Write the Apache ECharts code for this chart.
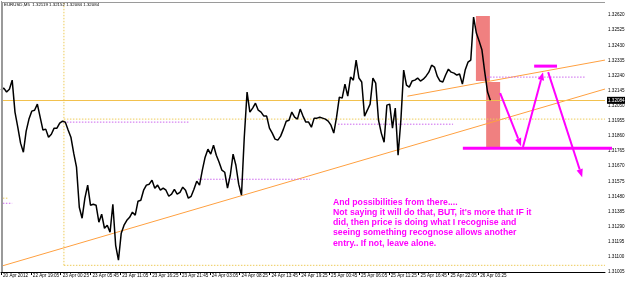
<!DOCTYPE html>
<html><head><meta charset="utf-8">
<script src="https://cdn.jsdelivr.net/npm/echarts@6/dist/echarts.min.js"></script>
<style>html,body{margin:0;padding:0;background:#fff}#c{width:625px;height:282px}</style>
</head><body><div id="c"></div>
<script>
// ---------- data ----------
const symbolName = 'EURUSD,M5';
const headerOHLC = [1.32119, 1.32152, 1.32084, 1.32084];
const barsPerPoint = 6;            // each value below = one M5 sample every 6 bars
const closes = [
1.32148,1.32161,1.32136,1.32154,1.32211,1.32010,1.31915,1.31815,1.31758,1.31890,
1.31966,1.32016,1.32022,1.32060,1.31978,1.31897,1.31903,1.31852,1.31871,1.31909,
1.31909,1.31941,1.31953,1.31947,1.31897,1.31852,1.31752,1.31664,1.31412,1.31343,
1.31469,1.31551,1.31425,1.31431,1.31425,1.31318,1.31368,1.31280,1.31299,1.31255,
1.31431,1.31173,1.31079,1.31249,1.31299,1.31330,1.31349,1.31381,1.31362,1.31450,
1.31456,1.31519,1.31551,1.31557,1.31582,1.31532,1.31551,1.31519,1.31532,1.31519,
1.31481,1.31494,1.31525,1.31494,1.31506,1.31538,1.31519,1.31469,1.31481,1.31525,
1.31576,1.31551,1.31645,1.31727,1.31777,1.31746,1.31802,1.31739,1.31695,1.31645,
1.31632,1.31532,1.31613,1.31746,1.31676,1.31557,1.31488,1.31852,1.32136,1.32010,
1.32035,1.32066,1.32022,1.32010,1.31985,1.31985,1.31909,1.31878,1.31840,1.31834,
1.31859,1.31903,1.31953,1.31959,1.32010,1.31978,1.31966,1.32029,1.31985,1.31947,
1.31947,1.31915,1.31972,1.31972,1.31978,1.31972,1.31966,1.31953,1.31928,1.31878,
1.31978,1.32104,1.32098,1.32186,1.32110,1.32230,1.32211,1.32337,1.32224,1.32199,
1.31985,1.32022,1.32060,1.32224,1.32192,1.31959,1.31878,1.31821,1.32054,1.32060,
1.31909,1.32035,1.31739,1.31959,1.32274,1.32180,1.32167,1.32205,1.32211,1.32224,
1.32205,1.32217,1.32236,1.32261,1.32305,1.32293,1.32236,1.32205,1.32199,1.32243,
1.32280,1.32261,1.32255,1.32243,1.32249,1.32186,1.32274,1.32324,1.32337,1.32607,
1.32507,1.32456,1.32400,1.32261,1.32136,1.32084
];
const xTickLabels = ['20 Apr 2012','22 Apr 19:05','23 Apr 00:25','23 Apr 05:45','23 Apr 11:05','23 Apr 16:25','23 Apr 21:45','24 Apr 03:05','24 Apr 08:25','24 Apr 13:45','24 Apr 19:25','25 Apr 00:45','25 Apr 06:05','25 Apr 11:25','25 Apr 16:45','25 Apr 22:05','26 Apr 03:25'];
const barsPerLabel = 64;
const yTickLabels = ['1.31005','1.31100','1.31195','1.31290','1.31385','1.31480','1.31575','1.31670','1.31765','1.31860','1.31955','1.32050','1.32145','1.32240','1.32335','1.32430','1.32525','1.32620'];
const yMin = 1.31005, yMax = 1.32702, xMaxBar = 1296;

// drawn objects, in [bar, price]
const trendLower = [[0, 1.31041], [1296, 1.32155]];
const trendUpper = [[872, 1.32110], [1296, 1.32337]];
const yellowDotted = [
  [[135, 1.31966], [1296, 1.31966]],
  [[135, 1.31047], [1296, 1.31047]],
  [[135, 1.31047], [135, 1.32702]],
  [[4, 1.31469], [15, 1.31469]]
];
const violetDotted = [
  [[135, 1.31947], [405, 1.31947]],
  [[423, 1.31588], [663, 1.31588]],
  [[723, 1.31934], [970, 1.31934]],
  [[1043, 1.32230], [1255, 1.32230]],
  [[4, 1.31437], [24, 1.31437]]
];
const boxes = [
  [[1019, 1.32614], [1049, 1.32205]],
  [[1041, 1.32199], [1071, 1.31790]]
];
const magentaLevels = [
  [[991, 1.31783], [1311, 1.31783]],
  [[1144, 1.32299], [1193, 1.32299]]
];
const magentaArrows = [
  [[1071, 1.32129], [1116, 1.31796]],
  [[1120, 1.31790], [1163, 1.32261]],
  [[1174, 1.32261], [1247, 1.31601]]
];
const noteLines = [
  'And possibilities from there....',
  "Not saying it will do that, BUT, it's more that IF it",
  'did, then price is doing what I recognise and',
  'seeing something recognose allows another',
  'entry.. If not, leave alone.'
];

// ---------- chart ----------
const FONT = "'Liberation Sans',Arial,sans-serif";
const chart = echarts.init(document.getElementById('c'), null, {renderer: 'canvas'});
const lastClose = closes[closes.length - 1];
const xTickVals = xTickLabels.map((_, i) => i * barsPerLabel);
const yTickVals = yTickLabels.map(Number);

function seg(pts, color, type, width, z) {
  return {type: 'line', data: pts, symbol: 'none', silent: true, animation: false, z: z,
          lineStyle: {color: color, type: type, width: width}};
}
const series = [];
series.push(Object.assign(seg(trendLower, '#FFA040', 'solid', 1, 1), {
  markArea: {silent: true, itemStyle: {color: '#F08080'},
    data: boxes.map(b => [{coord: b[0]}, {coord: b[1]}])}
}));
series.push(seg(trendUpper, '#FFA040', 'solid', 1, 2));
yellowDotted.forEach(s => series.push(seg(s, '#EDCB5A', [1.5, 1.5], 1, 2)));
violetDotted.forEach(s => series.push(seg(s, '#CC66EE', [1.5, 1.5], 1, 2)));
series.push({
  type: 'line', z: 5, symbol: 'none', silent: true, animation: false,
  data: closes.map((v, i) => [i * barsPerPoint, v]),
  lineStyle: {color: '#000', width: 1.5},
  markLine: {silent: true, symbol: ['none', 'none'], animation: false, precision: 5,
    lineStyle: {color: '#F2C14E', type: 'solid', width: 1},
    label: {show: true, position: 'end', distance: 2, formatter: lastClose.toFixed(5),
      backgroundColor: '#000', color: '#fff', fontSize: 4.6, fontFamily: FONT, padding: [1, 1, 1, 1]},
    data: [{yAxis: lastClose}]}
});

chart.setOption({
  animation: false,
  grid: {left: 1, right: 20, top: 2, bottom: 10, containLabel: false, outerBoundsMode: 'none'},
  xAxis: {type: 'value', min: 0, max: xMaxBar, interval: barsPerLabel,
    axisLine: {show: true, onZero: false, lineStyle: {color: '#000', width: 1}},
    axisTick: {show: true, length: 3, customValues: xTickVals, lineStyle: {color: '#000'}},
    axisLabel: {customValues: xTickVals, formatter: v => xTickLabels[Math.round(v / barsPerLabel)] || '',
      showMinLabel: true, showMaxLabel: true, hideOverlap: false,
      fontSize: 4.6, fontFamily: FONT, color: '#000', align: 'left', margin: 1, padding: [0, 0, 0, 2]},
    splitLine: {show: false}},
  yAxis: {type: 'value', position: 'right', min: yMin, max: yMax,
    axisLine: {show: true, lineStyle: {color: '#000', width: 1}},
    axisTick: {show: true, length: 2, customValues: yTickVals, lineStyle: {color: '#000'}},
    axisLabel: {customValues: yTickVals, formatter: v => v.toFixed(5), hideOverlap: false,
      showMinLabel: true, showMaxLabel: true,
      fontSize: 4.6, fontFamily: FONT, color: '#000', margin: 3},
    splitLine: {show: false}},
  series: series
});

// ---------- annotations (converted from bar/price to pixels) ----------
const P = p => chart.convertToPixel({gridIndex: 0}, p);
const g = [];
g.push({type: 'line', shape: {x1: 2, y1: 2, x2: 2, y2: 272}, style: {stroke: '#9a9a9a', lineWidth: 2}, z: 10});
g.push({type: 'line', shape: {x1: 1, y1: 2.5, x2: 605, y2: 2.5}, style: {stroke: '#9a9a9a', lineWidth: 1}, z: 10});
magentaLevels.forEach(s => {
  const a = P(s[0]), b = P(s[1]);
  g.push({type: 'line', shape: {x1: a[0], y1: a[1], x2: b[0], y2: b[1]}, style: {stroke: '#FF00FF', lineWidth: 3}, z: 20});
});
magentaArrows.forEach(s => {
  const a = P(s[0]), b = P(s[1]);
  const dx = b[0] - a[0], dy = b[1] - a[1], L = Math.hypot(dx, dy), ux = dx / L, uy = dy / L;
  const len = 8, half = 3.2;
  const bx = b[0] - ux * len, by = b[1] - uy * len;
  g.push({type: 'line', shape: {x1: a[0], y1: a[1], x2: bx, y2: by}, style: {stroke: '#FF00FF', lineWidth: 2}, z: 20});
  g.push({type: 'polygon', shape: {points: [[b[0], b[1]], [bx - uy * half, by + ux * half], [bx + uy * half, by - ux * half]]},
          style: {fill: '#FF00FF'}, z: 20});
});
g.push({type: 'text', left: 4, top: 3, z: 30,
  style: {text: symbolName + '  ' + headerOHLC.map(v => v.toFixed(5)).join(' '), fill: '#000', fontSize: 4.4, fontFamily: FONT}});
g.push({type: 'text', left: 333, top: 197, z: 30,
  style: {text: noteLines.join('\n'), fill: '#FF00FF', fontSize: 8.7, fontWeight: 'bold', fontFamily: FONT, lineHeight: 10.25}});
chart.setOption({graphic: g});
</script></body></html>
